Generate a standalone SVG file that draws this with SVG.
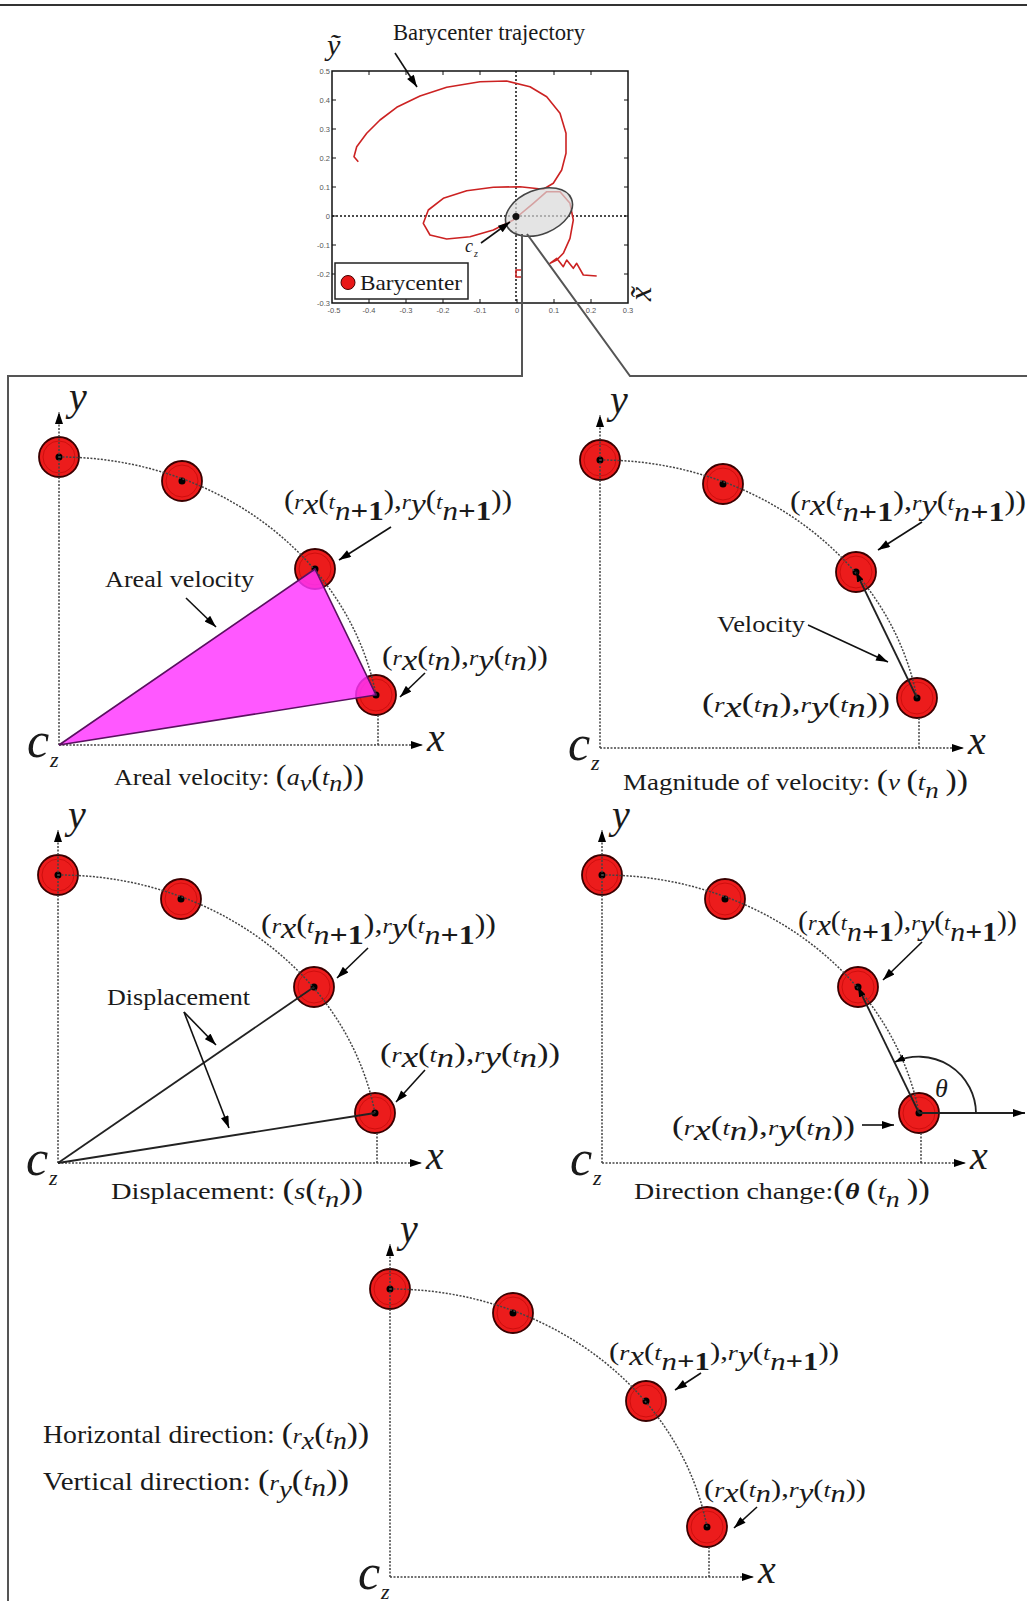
<svg xmlns="http://www.w3.org/2000/svg" xmlns:xlink="http://www.w3.org/1999/xlink" width="1027" height="1601" viewBox="0 0 1027 1601">
<style>
.t{font-family:"Liberation Serif","Times New Roman",serif;fill:#1a1a1a}
.lb{font-size:28px}
.cap{font-size:24px}
.i{font-style:italic}
.s{font-size:21px;font-style:italic}
.b{font-weight:bold}
.big{font-size:30px}
.ax{font-size:40px;font-style:italic}
.dl{stroke:#444;stroke-width:1.5;stroke-dasharray:2 1.5;fill:none}
.sl{stroke:#222;stroke-width:1.8;fill:none}
.ar{stroke:#111;stroke-width:1.6;fill:none}
.bc{fill:#ec1c1c;stroke:#3a0000;stroke-width:1.8}
.bci{fill:none;stroke:#b00000;stroke-width:1;stroke-opacity:0.5}
.tick{font-family:"Liberation Sans",Arial,sans-serif;font-size:7.5px;fill:#555}
.zl{stroke:#555;stroke-width:2;fill:none}
.tri{fill:#ff33ff;fill-opacity:0.82;stroke:#5a1060;stroke-width:1.6}
</style>
<defs>
<marker id="ah" viewBox="0 0 12 8" refX="12" refY="4" markerWidth="13" markerHeight="8" markerUnits="userSpaceOnUse" orient="auto"><path d="M0,0 L12,4 L0,8 z" fill="#000"/></marker>
<marker id="ahs" viewBox="0 0 10 7" refX="10" refY="3.5" markerWidth="10" markerHeight="7" markerUnits="userSpaceOnUse" orient="auto"><path d="M0,0 L10,3.5 L0,7 z" fill="#000"/></marker>
<g id="dot"><circle r="20" class="bc"/><circle r="16" class="bci"/><circle r="3.5" fill="#000"/></g>
<g id="quad">
<use xlink:href="#dot" x="0" y="-288"/>
<use xlink:href="#dot" x="123" y="-264"/>
<use xlink:href="#dot" x="256" y="-176"/>
<use xlink:href="#dot" x="317" y="-50"/>
<path class="dl" d="M0 -288 A321 288 0 0 1 317 -50"/>
<line class="dl" x1="0" y1="0" x2="0" y2="-333" marker-end="url(#ah)"/>
<line class="dl" x1="0" y1="0" x2="364" y2="0" marker-end="url(#ah)"/>
<line class="dl" x1="319" y1="-30" x2="319" y2="0"/>
<text class="t ax" x="10" y="-335">y</text>
<text class="t ax" x="368" y="6">x</text>
<text class="t i" font-size="50" x="-32" y="12">c</text>
<text class="t i" font-size="22" x="-9" y="22">z</text>
</g>
</defs>

<rect width="1027" height="1601" fill="#fff"/>
<line x1="0" y1="5" x2="1027" y2="5" stroke="#333" stroke-width="2"/>

<g id="trajectory-plot">
<rect x="332" y="71" width="296" height="232" fill="#fff" stroke="#111" stroke-width="1.5"/>
<g stroke="#111" stroke-width="1">
<path d="M332 100h4M332 129h4M332 158h4M332 187h4M332 216h4M332 245h4M332 274h4M628 100h-4M628 129h-4M628 158h-4M628 187h-4M628 216h-4M628 245h-4M628 274h-4M369 303v-4M406 303v-4M443 303v-4M480 303v-4M517 303v-4M554 303v-4M591 303v-4M369 71v4M406 71v4M443 71v4M480 71v4M554 71v4M591 71v4"/>
</g>
<line x1="516" y1="71" x2="516" y2="303" stroke="#111" stroke-width="1.5" stroke-dasharray="2 2"/>
<line x1="332" y1="216" x2="628" y2="216" stroke="#111" stroke-width="1.5" stroke-dasharray="2 2"/>
<g class="tick" text-anchor="end">
<text x="330" y="74">0.5</text><text x="330" y="103">0.4</text><text x="330" y="132">0.3</text><text x="330" y="161">0.2</text><text x="330" y="190">0.1</text><text x="330" y="219">0</text><text x="330" y="248">-0.1</text><text x="330" y="277">-0.2</text><text x="330" y="306">-0.3</text>
</g>
<g class="tick" text-anchor="middle">
<text x="334" y="313">-0.5</text><text x="369" y="313">-0.4</text><text x="406" y="313">-0.3</text><text x="443" y="313">-0.2</text><text x="480" y="313">-0.1</text><text x="517" y="313">0</text><text x="554" y="313">0.1</text><text x="591" y="313">0.2</text><text x="628" y="313">0.3</text>
</g>
<polyline fill="none" stroke="#cc2222" stroke-width="1.6" stroke-linejoin="round" points="358.3,161.7 354,156.7 356.7,146.7 366.7,133.3 380,120 396.7,107.3 420,96 446.7,87.3 480,81.7 506.7,81 530,86.7 546.7,96.7 560,113.3 566,133.3 566,153.3 561.7,170 553.3,183.3 543.3,189.3 520,186.7 493.3,187.3 466.7,190.7 443.3,198.3 428.3,210 423.3,223.3 430,235 446.7,239 470,236.7 493.3,230 513.3,220 533.3,203.3 546.7,191.7 560,191.7 570,203.3 573.3,220 570,238.3 563.3,253.3 556.7,260 550,263.3 556.7,258.3 563.3,266.7 566.7,260 573.3,268.3 576.7,263.3 583.3,275 596.7,276"/>
<path d="M523 270 H516 V277 H523" fill="none" stroke="#cc2222" stroke-width="1.5"/>
<ellipse cx="539" cy="212" rx="35" ry="22" transform="rotate(-22 539 212)" fill="#d8d8d8" fill-opacity="0.7" stroke="#444" stroke-width="1.6"/>
<circle cx="516" cy="216.5" r="3.5" fill="#111"/>
<line class="ar" x1="481" y1="243" x2="510" y2="222" marker-end="url(#ah)"/>
<text class="t i" font-size="18" x="465" y="252" fill="#333">c</text>
<text class="t i" font-size="10" x="474" y="257" fill="#333">z</text>
<line class="ar" x1="395" y1="53" x2="417" y2="87" marker-end="url(#ah)"/>
<text class="t" font-size="22.5" x="393" y="40" textLength="192" lengthAdjust="spacingAndGlyphs">Barycenter trajectory</text>
<text class="t i" font-size="30" x="327" y="55">ỹ</text>
<text class="t i" font-size="32" x="632" y="302" transform="rotate(-90 641 292)">x̃</text>
<rect x="335" y="263" width="133" height="36" fill="#fff" stroke="#222" stroke-width="1.5"/>
<circle cx="348" cy="282.5" r="7" fill="#e81818" stroke="#400" stroke-width="1"/>
<text class="t" font-size="21" x="360" y="290" textLength="102" lengthAdjust="spacingAndGlyphs">Barycenter</text>
</g>

<g id="connectors">
<polyline class="zl" points="522,234 522,376 8,376 8,1601"/>
<polyline class="zl" points="527,234 630,376 1027,376"/>
</g>

<g id="panel-areal-velocity" transform="translate(59,745)">
<use xlink:href="#quad"/>
<polygon class="tri" points="0,0 256,-176 317,-50"/>
<text class="t lb" x="225" y="-236" textLength="228" lengthAdjust="spacingAndGlyphs">(<tspan class="s">r</tspan><tspan class="i" font-size="30" dy="5">x</tspan><tspan dy="-5">(</tspan><tspan class="s">t</tspan><tspan class="i" dy="11">n</tspan><tspan class="b">+1</tspan><tspan dy="-11">),</tspan><tspan class="s">r</tspan><tspan class="i" font-size="30" dy="5">y</tspan><tspan dy="-5">(</tspan><tspan class="s">t</tspan><tspan class="i" dy="11">n</tspan><tspan class="b">+1</tspan><tspan dy="-11">))</tspan></text>
<line class="ar" x1="332" y1="-218" x2="280" y2="-185" marker-end="url(#ah)"/>
<text class="t lb" x="323" y="-80" textLength="166" lengthAdjust="spacingAndGlyphs">(<tspan class="s">r</tspan><tspan class="i" font-size="30" dy="5">x</tspan><tspan dy="-5">(</tspan><tspan class="s">t</tspan><tspan class="i" dy="5">n</tspan><tspan dy="-5">),</tspan><tspan class="s">r</tspan><tspan class="i" font-size="30" dy="5">y</tspan><tspan dy="-5">(</tspan><tspan class="s">t</tspan><tspan class="i" dy="5">n</tspan><tspan dy="-5">))</tspan></text>
<line class="ar" x1="366" y1="-72" x2="341" y2="-48" marker-end="url(#ah)"/>
<text class="t cap" x="46" y="-158" textLength="149" lengthAdjust="spacingAndGlyphs">Areal velocity</text>
<line class="ar" x1="127" y1="-147" x2="157" y2="-118" marker-end="url(#ah)"/>
<text class="t cap" x="55" y="40" textLength="250" lengthAdjust="spacingAndGlyphs">Areal velocity: <tspan class="big">(</tspan><tspan class="i">a</tspan><tspan class="i" dy="6">v</tspan><tspan dy="-6" class="big">(</tspan><tspan class="i">t</tspan><tspan class="i" dy="6">n</tspan><tspan dy="-6" class="big">))</tspan></text>
</g>

<g id="panel-velocity" transform="translate(600,748)">
<use xlink:href="#quad"/>
<line class="sl" x1="317" y1="-50" x2="256" y2="-176" marker-end="url(#ahs)"/>
<text class="t cap" x="117" y="-116" textLength="88" lengthAdjust="spacingAndGlyphs">Velocity</text>
<line class="ar" x1="208" y1="-123" x2="288" y2="-86" marker-end="url(#ah)"/>
<text class="t lb" x="190" y="-238" textLength="236" lengthAdjust="spacingAndGlyphs">(<tspan class="s">r</tspan><tspan class="i" font-size="30" dy="5">x</tspan><tspan dy="-5">(</tspan><tspan class="s">t</tspan><tspan class="i" dy="11">n</tspan><tspan class="b">+1</tspan><tspan dy="-11">),</tspan><tspan class="s">r</tspan><tspan class="i" font-size="30" dy="5">y</tspan><tspan dy="-5">(</tspan><tspan class="s">t</tspan><tspan class="i" dy="11">n</tspan><tspan class="b">+1</tspan><tspan dy="-11">))</tspan></text>
<line class="ar" x1="322" y1="-226" x2="278" y2="-198" marker-end="url(#ah)"/>
<text class="t lb" x="102" y="-36" textLength="188" lengthAdjust="spacingAndGlyphs">(<tspan class="s">r</tspan><tspan class="i" font-size="30" dy="5">x</tspan><tspan dy="-5">(</tspan><tspan class="s">t</tspan><tspan class="i" dy="5">n</tspan><tspan dy="-5">),</tspan><tspan class="s">r</tspan><tspan class="i" font-size="30" dy="5">y</tspan><tspan dy="-5">(</tspan><tspan class="s">t</tspan><tspan class="i" dy="5">n</tspan><tspan dy="-5">))</tspan></text>
<text class="t cap" x="23" y="42" textLength="345" lengthAdjust="spacingAndGlyphs">Magnitude of velocity: <tspan class="big">(</tspan><tspan class="i">v</tspan> <tspan class="big">(</tspan><tspan class="i">t</tspan><tspan class="i" dy="8">n</tspan> <tspan dy="-8" class="big">))</tspan></text>
</g>

<g id="panel-displacement" transform="translate(58,1163)">
<use xlink:href="#quad"/>
<line class="sl" x1="0" y1="0" x2="256" y2="-176"/>
<line class="sl" x1="0" y1="0" x2="317" y2="-50"/>
<text class="t cap" x="49" y="-158" textLength="143" lengthAdjust="spacingAndGlyphs">Displacement</text>
<line class="ar" x1="126" y1="-151" x2="158" y2="-118" marker-end="url(#ah)"/>
<line class="ar" x1="126" y1="-151" x2="171" y2="-35" marker-end="url(#ah)"/>
<text class="t lb" x="203" y="-230" textLength="235" lengthAdjust="spacingAndGlyphs">(<tspan class="s">r</tspan><tspan class="i" font-size="30" dy="5">x</tspan><tspan dy="-5">(</tspan><tspan class="s">t</tspan><tspan class="i" dy="11">n</tspan><tspan class="b">+1</tspan><tspan dy="-11">),</tspan><tspan class="s">r</tspan><tspan class="i" font-size="30" dy="5">y</tspan><tspan dy="-5">(</tspan><tspan class="s">t</tspan><tspan class="i" dy="11">n</tspan><tspan class="b">+1</tspan><tspan dy="-11">))</tspan></text>
<line class="ar" x1="310" y1="-215" x2="279" y2="-185" marker-end="url(#ah)"/>
<text class="t lb" x="322" y="-101" textLength="180" lengthAdjust="spacingAndGlyphs">(<tspan class="s">r</tspan><tspan class="i" font-size="30" dy="5">x</tspan><tspan dy="-5">(</tspan><tspan class="s">t</tspan><tspan class="i" dy="5">n</tspan><tspan dy="-5">),</tspan><tspan class="s">r</tspan><tspan class="i" font-size="30" dy="5">y</tspan><tspan dy="-5">(</tspan><tspan class="s">t</tspan><tspan class="i" dy="5">n</tspan><tspan dy="-5">))</tspan></text>
<line class="ar" x1="367" y1="-93" x2="338" y2="-61" marker-end="url(#ah)"/>
<text class="t cap" x="53" y="36" textLength="252" lengthAdjust="spacingAndGlyphs">Displacement: <tspan class="big">(</tspan><tspan class="i">s</tspan><tspan class="big">(</tspan><tspan class="i">t</tspan><tspan class="i" dy="8">n</tspan><tspan dy="-8" class="big">))</tspan></text>
</g>

<g id="panel-direction-change" transform="translate(602,1163)">
<use xlink:href="#quad"/>
<line class="sl" x1="317" y1="-50" x2="256" y2="-176" marker-end="url(#ahs)"/>
<line class="sl" x1="317" y1="-50" x2="423" y2="-50" marker-end="url(#ah)"/>
<path class="sl" d="M374 -50 A57 57 0 0 0 293 -101" marker-end="url(#ahs)"/>
<text class="t i" font-size="26" x="333" y="-66">θ</text>
<text class="t lb" x="196" y="-233" textLength="219" lengthAdjust="spacingAndGlyphs">(<tspan class="s">r</tspan><tspan class="i" font-size="30" dy="5">x</tspan><tspan dy="-5">(</tspan><tspan class="s">t</tspan><tspan class="i" dy="11">n</tspan><tspan class="b">+1</tspan><tspan dy="-11">),</tspan><tspan class="s">r</tspan><tspan class="i" font-size="30" dy="5">y</tspan><tspan dy="-5">(</tspan><tspan class="s">t</tspan><tspan class="i" dy="11">n</tspan><tspan class="b">+1</tspan><tspan dy="-11">))</tspan></text>
<line class="ar" x1="320" y1="-221" x2="281" y2="-183" marker-end="url(#ah)"/>
<text class="t lb" x="70" y="-28" textLength="183" lengthAdjust="spacingAndGlyphs">(<tspan class="s">r</tspan><tspan class="i" font-size="30" dy="5">x</tspan><tspan dy="-5">(</tspan><tspan class="s">t</tspan><tspan class="i" dy="5">n</tspan><tspan dy="-5">),</tspan><tspan class="s">r</tspan><tspan class="i" font-size="30" dy="5">y</tspan><tspan dy="-5">(</tspan><tspan class="s">t</tspan><tspan class="i" dy="5">n</tspan><tspan dy="-5">))</tspan></text>
<line class="ar" x1="260" y1="-38" x2="292" y2="-38" marker-end="url(#ah)"/>
<text class="t cap" x="32" y="36" textLength="296" lengthAdjust="spacingAndGlyphs">Direction change:<tspan class="big">(</tspan><tspan class="i b">θ</tspan> <tspan class="big">(</tspan><tspan class="i">t</tspan><tspan class="i" dy="8">n</tspan> <tspan dy="-8" class="big">))</tspan></text>
</g>

<g id="panel-position" transform="translate(390,1577)">
<use xlink:href="#quad"/>
<text class="t" font-size="25" x="219" y="-217" textLength="230" lengthAdjust="spacingAndGlyphs">(<tspan class="s">r</tspan><tspan class="i" font-size="27" dy="5">x</tspan><tspan dy="-5">(</tspan><tspan class="s">t</tspan><tspan class="i" dy="10">n</tspan><tspan class="b">+1</tspan><tspan dy="-10">),</tspan><tspan class="s">r</tspan><tspan class="i" font-size="27" dy="5">y</tspan><tspan dy="-5">(</tspan><tspan class="s">t</tspan><tspan class="i" dy="10">n</tspan><tspan class="b">+1</tspan><tspan dy="-10">))</tspan></text>
<line class="ar" x1="311" y1="-204" x2="285" y2="-187" marker-end="url(#ah)"/>
<text class="t" font-size="25" x="314" y="-80" textLength="162" lengthAdjust="spacingAndGlyphs">(<tspan class="s">r</tspan><tspan class="i" font-size="27" dy="5">x</tspan><tspan dy="-5">(</tspan><tspan class="s">t</tspan><tspan class="i" dy="5">n</tspan><tspan dy="-5">),</tspan><tspan class="s">r</tspan><tspan class="i" font-size="27" dy="5">y</tspan><tspan dy="-5">(</tspan><tspan class="s">t</tspan><tspan class="i" dy="5">n</tspan><tspan dy="-5">))</tspan></text>
<line class="ar" x1="367" y1="-70" x2="344" y2="-49" marker-end="url(#ah)"/>
</g>

<g id="position-captions">
<text class="t" font-size="25" x="43" y="1443" textLength="326" lengthAdjust="spacingAndGlyphs">Horizontal direction: <tspan class="big">(</tspan><tspan class="s">r</tspan><tspan class="i" dy="6">x</tspan><tspan dy="-6" class="big">(</tspan><tspan class="i">t</tspan><tspan class="i" dy="6">n</tspan><tspan dy="-6" class="big">))</tspan></text>
<text class="t" font-size="25" x="43" y="1490" textLength="306" lengthAdjust="spacingAndGlyphs">Vertical direction: <tspan class="big">(</tspan><tspan class="s">r</tspan><tspan class="i" dy="8">y</tspan><tspan dy="-8" class="big">(</tspan><tspan class="i">t</tspan><tspan class="i" dy="6">n</tspan><tspan dy="-6" class="big">))</tspan></text>
</g>
</svg>
